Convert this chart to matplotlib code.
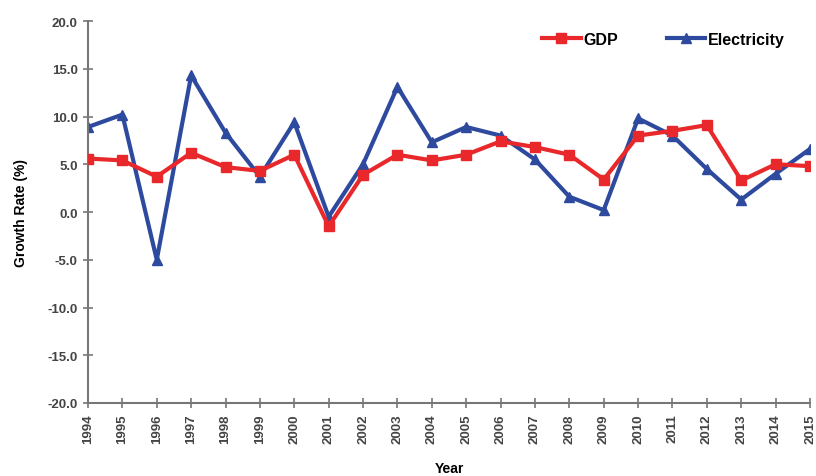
import numpy as np
import matplotlib
matplotlib.use("Agg")
import matplotlib.pyplot as plt

plt.rcParams['font.family'] = ['Liberation Sans', 'DejaVu Sans']

years = list(range(1994, 2016))
gdp = [5.6, 5.4, 3.7, 6.2, 4.7, 4.3, 6.0, -1.5, 3.9, 6.0, 5.4, 6.0,
       7.4, 6.8, 6.0, 3.4, 8.0, 8.5, 9.1, 3.3, 5.0, 4.8]
electricity = [8.9, 10.2, -5.0, 14.3, 8.3, 3.7, 9.4, -0.5, 5.0, 13.1, 7.3, 8.9,
               8.0, 5.5, 1.6, 0.2, 9.8, 8.0, 4.5, 1.3, 4.0, 6.6]
y_ticks = [20.0, 15.0, 10.0, 5.0, 0.0, -5.0, -10.0, -15.0, -20.0]

fig = plt.figure(figsize=(8.16, 4.77), dpi=100)
ax = fig.add_axes([88 / 816, 73 / 477, 722 / 816, 382 / 477])

red = '#e8282a'
blue = '#2e4a9e'
ax.plot(years, gdp, color=red, lw=3, marker='s', ms=6.5, label='GDP', zorder=3)
ax.plot(years, electricity, color=blue, lw=3, marker='^', ms=6.5, label='Electricity', zorder=2)

ax.set_xlim(1994, 2015)
ax.set_ylim(-20, 20)
ax.set_xticks(years)
ax.set_xticklabels([str(y) for y in years], rotation=90, fontsize=9.5,
                   fontweight='bold', color='#444444')
ax.set_yticks(y_ticks)
ax.set_yticklabels(['%.1f' % v for v in y_ticks], fontsize=9.5,
                   fontweight='bold', color='#444444')

for s in ['top', 'right']:
    ax.spines[s].set_visible(False)
for s in ['left', 'bottom']:
    ax.spines[s].set_color('#777777')
    ax.spines[s].set_linewidth(1.5)
ax.tick_params(direction='inout', length=7, width=1.2, color='#777777', pad=4)

ax.set_xlabel('Year', fontsize=10, fontweight='bold', labelpad=13)
ax.set_ylabel('Growth Rate (%)', fontsize=10, fontweight='bold', labelpad=14)

ax.legend(loc='upper right', bbox_to_anchor=(0.985, 1.01), ncol=2, frameon=False,
          prop={'weight': 'bold', 'size': 11.5}, handlelength=2.4,
          handletextpad=0.2, columnspacing=3.0)

fig.savefig('out.png', dpi=100)
